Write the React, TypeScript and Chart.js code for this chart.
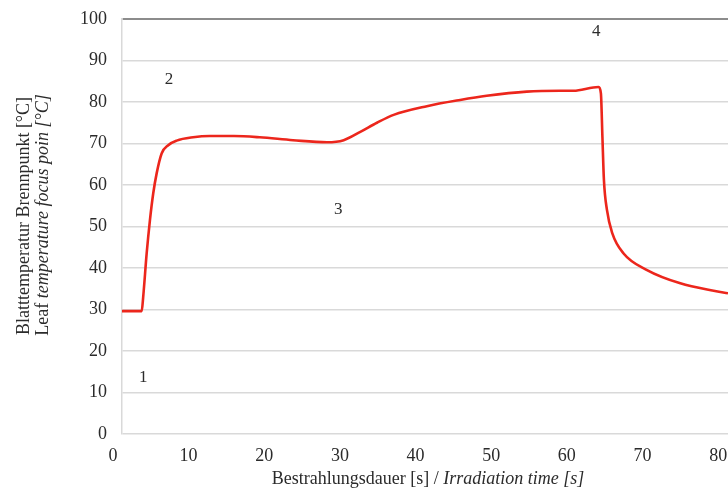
import React, { useEffect, useRef } from "react";
import { Chart, registerables } from "chart.js";

Chart.register(...registerables);

// Time [s]
const timeS = [
  1.2, 2.5, 3.8, 4.0, 4.46, 4.89, 5.33, 5.78, 6.44, 7.31, 8.43, 10.6, 12.8, 16, 19.4,
  23.8, 28.3, 30.5, 32.7, 34.9, 37.1, 41.5, 45.9, 49.4, 54.7, 59.1, 60.9, 63.5, 64.2,
  64.5, 64.7, 64.9, 65.3, 66.0, 67.5, 70.6, 75.0, 79.4, 81.3,
];
// Leaf temperature [°C]
const tempC = [
  29.6, 29.6, 29.6, 33, 43.5, 51.5, 58, 62.8, 67.6, 69.6, 70.7, 71.5, 71.8, 71.8, 71.5,
  70.8, 70.3, 70.8, 72.8, 75.0, 76.9, 79.0, 80.5, 81.5, 82.5, 82.7, 82.7, 83.5, 83.6,
  82.1, 71.6, 61.2, 54, 48.4, 43.5, 39.5, 36.3, 34.5, 33.9,
];

const xTicks = [0, 10, 20, 30, 40, 50, 60, 70, 80];
const yTicks = [0, 10, 20, 30, 40, 50, 60, 70, 80, 90, 100];

const markLabels = ["1", "2", "3", "4"];
const markX = [4, 7.4, 29.8, 63.9];
const markY = [13.5, 85.3, 54, 96.9];

const yTitleLine1 = "Blatttemperatur Brennpunkt [°C]";
const yTitleLine2Regular = "Leaf ";
const yTitleLine2Italic = "temperature focus poin [°C]";
const xTitleRegular = "Bestrahlungsdauer [s] / ";
const xTitleItalic = "Irradiation time [s]";

const SERIF = "'Liberation Serif', 'Times New Roman', serif";
const TEXT = "#2b2b2b";

function drawMixed(
  ctx: CanvasRenderingContext2D,
  parts: { text: string; italic: boolean }[],
  cx: number,
  cy: number,
  size: number
) {
  const fonts = parts.map((p) => `${p.italic ? "italic " : ""}${size}px ${SERIF}`);
  let total = 0;
  const widths = parts.map((p, i) => {
    ctx.font = fonts[i];
    const w = ctx.measureText(p.text).width;
    total += w;
    return w;
  });
  let x = cx - total / 2;
  ctx.textAlign = "left";
  ctx.textBaseline = "middle";
  parts.forEach((p, i) => {
    ctx.font = fonts[i];
    ctx.fillText(p.text, x, cy);
    x += widths[i];
  });
}

const textPlugin = {
  id: "customText",
  afterDraw(chart: any) {
    const ctx: CanvasRenderingContext2D = chart.ctx;
    const xs = chart.scales.x;
    const ys = chart.scales.y;
    ctx.save();
    ctx.fillStyle = TEXT;
    // numbered marks
    ctx.font = `17px ${SERIF}`;
    ctx.textAlign = "center";
    ctx.textBaseline = "middle";
    markLabels.forEach((t, i) => {
      ctx.fillText(t, xs.getPixelForValue(markX[i]), ys.getPixelForValue(markY[i]));
    });
    // x title
    drawMixed(
      ctx,
      [
        { text: xTitleRegular, italic: false },
        { text: xTitleItalic, italic: true },
      ],
      428,
      479,
      18
    );
    // y title (rotated)
    ctx.save();
    ctx.translate(24, 216);
    ctx.rotate(-Math.PI / 2);
    drawMixed(ctx, [{ text: yTitleLine1, italic: false }], 0, 0, 18);
    ctx.restore();
    ctx.save();
    ctx.translate(43, 215);
    ctx.rotate(-Math.PI / 2);
    drawMixed(
      ctx,
      [
        { text: yTitleLine2Regular, italic: false },
        { text: yTitleLine2Italic, italic: true },
      ],
      0,
      0,
      18
    );
    ctx.restore();
    ctx.restore();
  },
};

export default function App() {
  const ref = useRef<HTMLCanvasElement | null>(null);
  useEffect(() => {
    if (!ref.current) return;
    const chart = new Chart(ref.current, {
      type: "line",
      data: {
        datasets: [
          {
            data: timeS.map((t, i) => ({ x: t, y: tempC[i] })),
            borderColor: "rgb(236, 38, 28)",
            borderWidth: 2.6,
            pointRadius: 0,
            fill: false,
            cubicInterpolationMode: "monotone",
          },
        ],
      },
      plugins: [textPlugin],
      options: {
        animation: false,
        responsive: false,
        events: [],
        layout: { padding: { top: 19, left: 0, right: 0, bottom: 0 } },
        plugins: { legend: { display: false }, tooltip: { enabled: false } },
        scales: {
          x: {
            type: "linear",
            min: 1.2,
            max: 81.3,
            afterBuildTicks: (scale: any) => {
              scale.ticks = xTicks.map((v) => ({ value: v }));
            },
            afterFit: (scale: any) => {
              scale.height = 57;
              scale.paddingLeft = 0;
              scale.paddingRight = 0;
            },
            grid: { display: false, drawTicks: false },
            border: { display: false },
            ticks: {
              padding: 11,
              color: TEXT,
              font: { family: SERIF, size: 18 },
              maxRotation: 0,
              autoSkip: false,
            },
          },
          y: {
            min: 0,
            max: 100,
            afterBuildTicks: (scale: any) => {
              scale.ticks = yTicks.map((v) => ({ value: v }));
            },
            afterFit: (scale: any) => {
              scale.width = 122;
              scale.paddingTop = 0;
              scale.paddingBottom = 0;
            },
            grid: {
              drawTicks: false,
              color: (c: any) => (c.tick && c.tick.value === 100 ? "#8c8c8c" : "#d9d9d9"),
              lineWidth: (c: any) => (c.tick && c.tick.value === 100 ? 2 : 1.5),
            },
            border: { display: true, color: "#d9d9d9", width: 1.5 },
            ticks: {
              padding: 15,
              color: TEXT,
              font: { family: SERIF, size: 18 },
            },
          },
        },
      },
    } as any);
    return () => chart.destroy();
  }, []);
  return (
    <div style={{ position: "fixed", left: 0, top: 0, width: 728, height: 491, background: "#fff" }}>
      <canvas ref={ref} width={728} height={491} style={{ width: 728, height: 491, display: "block" }} />
    </div>
  );
}
